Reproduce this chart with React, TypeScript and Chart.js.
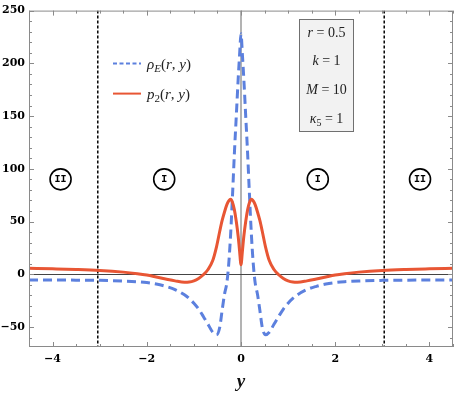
import React, { useEffect, useRef } from "react";
import { Chart, registerables } from "chart.js";
Chart.register(...registerables);

// ---- data ----
const yCoords = [
  -4.5, -4, -3.5, -3, -2.5, -2.2, -2, -1.8, -1.6, -1.4, -1.2, -1.1, -1, -0.9, -0.8, -0.7, -0.6, -0.52,
  -0.45, -0.4, -0.35, -0.3, -0.26, -0.22, -0.18, -0.14, -0.1, -0.06, -0.03, 0,
  0.03, 0.06, 0.1, 0.14, 0.18, 0.22, 0.26, 0.3, 0.35, 0.4, 0.45, 0.52, 0.6, 0.7, 0.8, 0.9, 1, 1.1,
  1.2, 1.4, 1.6, 1.8, 2, 2.2, 2.5, 3, 3.5, 4, 4.5,
];
const rhoE = [
  -5.5, -5.5, -5.6, -5.8, -6.4, -7.1, -7.9, -9.3, -11.5, -14.5, -19.5, -23, -27.5, -33, -40, -47.5, -55, -57.5,
  -50, -34, -19, -8, 10, 38, 75, 115, 150, 185, 208, 228,
  208, 185, 150, 115, 75, 38, 10, -8, -19, -34, -50, -57.5, -55, -47.5, -40, -33, -27.5, -23,
  -19.5, -14.5, -11.5, -9.3, -7.9, -7.1, -6.4, -5.8, -5.6, -5.5, -5.5,
];
const p2 = [
  5.6, 5.1, 4.5, 3.6, 2.0, 0.5, -0.8, -2.6, -4.5, -6.3, -7.6, -7.4, -6.3, -4, -0.5, 4.5, 13, 26,
  41, 51, 59, 66, 69.5, 71, 68, 61, 50, 36, 22, 9,
  22, 36, 50, 61, 68, 71, 69.5, 66, 59, 51, 41, 26, 13, 4.5, -0.5, -4, -6.3, -7.4,
  -7.6, -6.3, -4.5, -2.6, -0.8, 0.5, 2.0, 3.6, 4.5, 5.1, 5.6,
];
const xTicks = [-4, -2, 0, 2, 4];
const yTicks = [-50, 0, 50, 100, 150, 200, 250];
const boundaries = [-3.04, 3.04];
const regionNames = ["II", "I", "I", "II"];
const regionX = [-3.83, -1.63, 1.63, 3.8];
const regionY = 90;
const seriesNames = ["ρE", "p2"];

type Run = { t: string; it?: boolean; sub?: boolean };
const paramRuns: Run[][] = [
  [{ t: "r", it: true }, { t: " = 0.5" }],
  [{ t: "k", it: true }, { t: " = 1" }],
  [{ t: "M", it: true }, { t: " = 10" }],
  [{ t: "κ", it: true }, { t: "5", sub: true }, { t: " = 1" }],
];
const legendRuns: Run[][] = [
  [{ t: "ρ", it: true }, { t: "E", it: true, sub: true }, { t: "(" }, { t: "r", it: true }, { t: ", " }, { t: "y", it: true }, { t: ")" }],
  [{ t: "p", it: true }, { t: "2", sub: true }, { t: "(" }, { t: "r", it: true }, { t: ", " }, { t: "y", it: true }, { t: ")" }],
];

const BLUE = "rgb(92,128,222)";
const RED = "rgb(232,86,52)";

function drawRuns(ctx: CanvasRenderingContext2D, runs: Run[], x: number, y: number, size: number, center: boolean) {
  const fontFor = (r: Run) => `${r.it ? "italic " : ""}${r.sub ? Math.round(size * 0.7) : size}px "Liberation Serif"`;
  let total = 0;
  for (const r of runs) {
    ctx.font = fontFor(r);
    total += ctx.measureText(r.t).width;
  }
  let cx = center ? x - total / 2 : x;
  ctx.textAlign = "left";
  ctx.textBaseline = "alphabetic";
  for (const r of runs) {
    ctx.font = fontFor(r);
    ctx.fillText(r.t, cx, y + (r.sub ? size * 0.22 : 0));
    cx += ctx.measureText(r.t).width;
  }
}

const fmt = (v: number) => (v < 0 ? "\u2212" + Math.abs(v) : String(v));

const decorations = {
  id: "decorations",
  beforeDatasetsDraw(chart: any) {
    const { ctx, chartArea: a, scales } = chart;
    const xs = scales.x, ys = scales.y;
    ctx.save();
    ctx.beginPath();
    ctx.rect(a.left, a.top, a.right - a.left, a.bottom - a.top);
    ctx.clip();
    // zero lines
    ctx.strokeStyle = "#9a9a9a";
    ctx.lineWidth = 1.5;
    ctx.beginPath();
    const x0 = xs.getPixelForValue(0);
    ctx.moveTo(x0, a.top);
    ctx.lineTo(x0, a.bottom);
    ctx.stroke();
    ctx.strokeStyle = "#444";
    ctx.lineWidth = 1;
    ctx.beginPath();
    const y0 = Math.round(ys.getPixelForValue(0)) + 0.5;
    ctx.moveTo(a.left, y0);
    ctx.lineTo(a.right, y0);
    ctx.stroke();
    // boundaries
    ctx.strokeStyle = "#000";
    ctx.lineWidth = 1.5;
    ctx.setLineDash([3, 2]);
    for (const b of boundaries) {
      const bx = xs.getPixelForValue(b);
      ctx.beginPath();
      ctx.moveTo(bx, a.top);
      ctx.lineTo(bx, a.bottom);
      ctx.stroke();
    }
    ctx.restore();
  },
  afterDatasetsDraw(chart: any) {
    const { ctx, chartArea: a, scales } = chart;
    const xs = scales.x, ys = scales.y;
    ctx.save();
    // frame
    ctx.strokeStyle = "#8a8a8a";
    ctx.lineWidth = 1;
    ctx.strokeRect(a.left + 0.5, a.top + 0.5, a.right - a.left - 1, a.bottom - a.top - 1);
    // ticks
    ctx.beginPath();
    for (let v = -4.5; v <= 4.5001; v += 0.5) {
      const px = Math.round(xs.getPixelForValue(v)) + 0.5;
      const major = Math.abs(v % 2) < 1e-6;
      const len = major ? 5 : 3;
      ctx.moveTo(px, a.bottom);
      ctx.lineTo(px, a.bottom - len);
      ctx.moveTo(px, a.top);
      ctx.lineTo(px, a.top + len);
    }
    for (let v = -60; v <= 250; v += 10) {
      const py = Math.round(ys.getPixelForValue(v)) + 0.5;
      const major = v % 50 === 0;
      const len = major ? 5 : 3;
      ctx.moveTo(a.left, py);
      ctx.lineTo(a.left + len, py);
      ctx.moveTo(a.right, py);
      ctx.lineTo(a.right - len, py);
    }
    ctx.stroke();

    // region circles
    ctx.fillStyle = "#000";
    ctx.strokeStyle = "#000";
    ctx.lineWidth = 1.6;
    regionNames.forEach((name, i) => {
      const cx = xs.getPixelForValue(regionX[i]);
      const cy = ys.getPixelForValue(regionY);
      ctx.beginPath();
      ctx.arc(cx, cy, 10.5, 0, Math.PI * 2);
      ctx.stroke();
      ctx.font = 'bold 10px "Liberation Mono"';
      ctx.textAlign = "center";
      ctx.textBaseline = "middle";
      ctx.fillText(name, cx, cy + 0.5);
    });

    // legend
    const lx = a.left + 84;
    const ly = [a.top + 53, a.top + 83];
    ctx.lineWidth = 2;
    ctx.strokeStyle = BLUE;
    ctx.setLineDash([4, 2.5]);
    ctx.beginPath();
    ctx.moveTo(lx, ly[0]);
    ctx.lineTo(lx + 28, ly[0]);
    ctx.stroke();
    ctx.setLineDash([]);
    ctx.strokeStyle = RED;
    ctx.beginPath();
    ctx.moveTo(lx, ly[1]);
    ctx.lineTo(lx + 28, ly[1]);
    ctx.stroke();
    ctx.fillStyle = "#222";
    legendRuns.forEach((runs, i) => drawRuns(ctx, runs, lx + 34, ly[i] + 5, 15, false));

    // parameter box
    const bx = 299.5, by = 19.5, bw = 54, bh = 112;
    ctx.fillStyle = "#f2f2f2";
    ctx.fillRect(bx, by, bw, bh);
    ctx.strokeStyle = "#707070";
    ctx.lineWidth = 1;
    ctx.strokeRect(bx, by, bw, bh);
    ctx.fillStyle = "#222";
    const rowsY = [36.5, 65, 94, 123];
    paramRuns.forEach((runs, i) => drawRuns(ctx, runs, bx + bw / 2, rowsY[i], 14, true));
    ctx.restore();
  },
};

export default function App() {
  const ref = useRef<HTMLCanvasElement | null>(null);
  useEffect(() => {
    if (!ref.current) return;
    const chart = new Chart(ref.current, {
      type: "line",
      data: {
        datasets: [
          {
            label: seriesNames[1],
            data: yCoords.map((x, i) => ({ x, y: p2[i] })),
            borderColor: RED,
            borderWidth: 3,
            pointRadius: 0,
            cubicInterpolationMode: "monotone",
            order: 0,
          },
          {
            label: seriesNames[0],
            data: yCoords.map((x, i) => ({ x, y: rhoE[i] })),
            borderColor: BLUE,
            borderWidth: 3,
            borderDash: [9, 5],
            pointRadius: 0,
            cubicInterpolationMode: "monotone",
            order: 1,
          },
        ],
      },
      options: {
        responsive: false,
        animation: false,
        devicePixelRatio: 1,
        layout: { padding: { top: 7, right: 1, left: 0, bottom: 0 } },
        plugins: { legend: { display: false }, tooltip: { enabled: false } },
        scales: {
          x: {
            type: "linear",
            min: -4.5,
            max: 4.5,
            grid: { display: false, drawTicks: false },
            border: { display: false },
            afterBuildTicks: (s: any) => { s.ticks = xTicks.map((value) => ({ value })); },
            afterFit: (s: any) => { s.height = 49; },
            ticks: {
              padding: 6,
              color: "#000",
              font: { family: "DejaVu Serif", weight: "bold", size: 11 },
              callback: (v: any) => fmt(Number(v)),
              maxRotation: 0,
              autoSkip: false,
            },
            title: {
              display: true,
              text: "y",
              color: "#111",
              font: { family: "Liberation Serif", style: "italic", weight: "bold", size: 19 },
              padding: { top: 0, bottom: 3 },
            },
          },
          y: {
            type: "linear",
            min: -69,
            max: 250,
            grid: { display: false, drawTicks: false },
            border: { display: false },
            afterBuildTicks: (s: any) => { s.ticks = yTicks.map((value) => ({ value })); },
            afterFit: (s: any) => { s.width = 29; },
            ticks: {
              padding: 4,
              color: "#000",
              font: { family: "DejaVu Serif", weight: "bold", size: 11 },
              callback: (v: any) => fmt(Number(v)),
              autoSkip: false,
            },
          },
        },
      },
      plugins: [decorations],
    } as any);
    return () => chart.destroy();
  }, []);
  return (
    <div style={{ position: "fixed", left: 0, top: 0, width: 454, height: 396, background: "#fff" }}>
      <canvas ref={ref} width={454} height={396} style={{ display: "block" }} />
    </div>
  );
}
